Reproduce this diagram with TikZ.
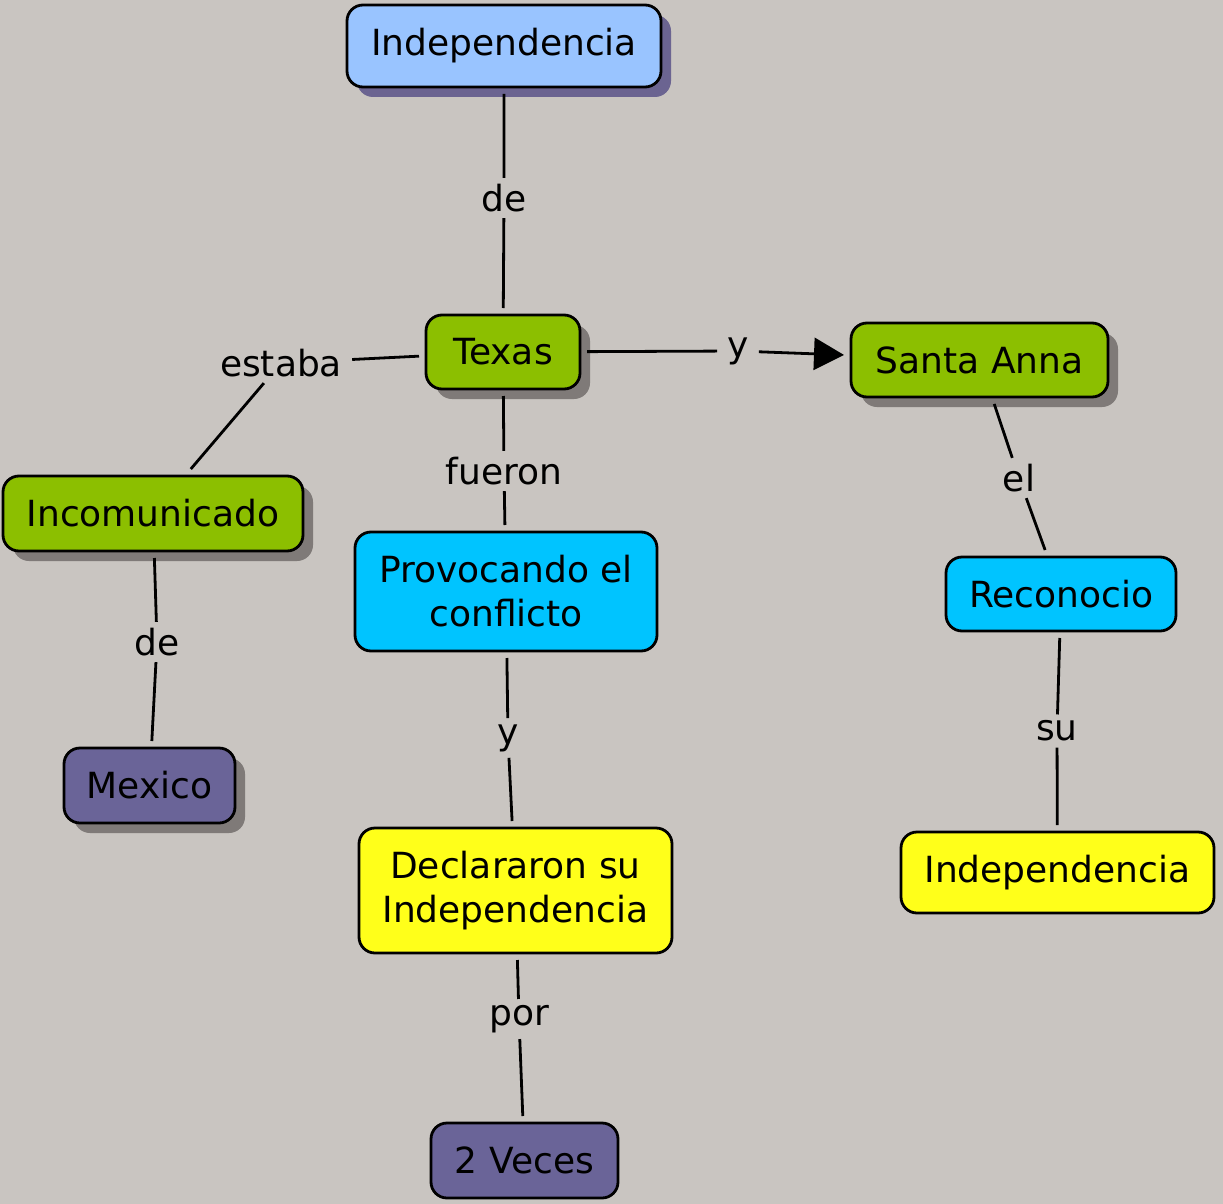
\documentclass[tikz,border=0pt]{standalone}
\usepackage{fontspec}
\setmainfont{DejaVu Sans}
\usetikzlibrary{arrows.meta,shadows}
\definecolor{bgcol}{RGB}{201,197,193}
\definecolor{skyblue}{RGB}{153,196,255}
\definecolor{leafgreen}{RGB}{140,191,0}
\definecolor{brightcyan}{RGB}{0,196,255}
\definecolor{slatepurple}{RGB}{106,100,152}
\definecolor{lemon}{RGB}{255,255,26}
\definecolor{shadowgray}{RGB}{127,122,120}
\definecolor{shadowpurple}{RGB}{107,100,145}
\begin{document}
\begin{tikzpicture}[x=1pt,y=-1pt,
  concept/.style={draw=black,line width=2.8pt,rounded corners=16pt,align=center,
    inner sep=0pt,outer sep=7pt,font=\fontsize{36}{44}\selectfont},
  shade/.style={drop shadow={shadow xshift=10pt,shadow yshift=-10pt,fill=#1,opacity=1}},
  link/.style={font=\fontsize{36}{44}\selectfont,inner xsep=10pt,inner ysep=6pt},
  conn/.style={line width=2.8pt}]
\fill[bgcol] (0,0) rectangle (1223,1204);
\useasboundingbox (0,0) rectangle (1223,1204);
% concepts
\node[concept,fill=skyblue,shade=shadowpurple,minimum width=314pt,minimum height=82pt] (indep) at (504,46) {Independencia};
\node[concept,fill=leafgreen,shade=shadowgray,minimum width=154pt,minimum height=74pt] (texas) at (503,352) {Texas};
\node[concept,fill=leafgreen,shade=shadowgray,minimum width=257pt,minimum height=74pt] (santa) at (979.5,360) {Santa Anna};
\node[concept,fill=leafgreen,shade=shadowgray,minimum width=300pt,minimum height=75pt] (incom) at (153,513.5) {Incomunicado};
\node[concept,fill=brightcyan,minimum width=302pt,minimum height=119pt] (provo) at (506,591.5) {Provocando el\\conflicto};
\node[concept,fill=brightcyan,minimum width=230pt,minimum height=74pt] (recon) at (1061,594) {Reconocio};
\node[concept,fill=slatepurple,shade=shadowgray,minimum width=171pt,minimum height=75pt] (mexico) at (149.5,785.5) {Mexico};
\node[concept,fill=lemon,minimum width=313pt,minimum height=125pt] (decl) at (515.5,890.5) {Declararon su\\Independencia};
\node[concept,fill=lemon,minimum width=313pt,minimum height=81pt] (indepb) at (1057.5,872.5) {Independencia};
\node[concept,fill=slatepurple,minimum width=187pt,minimum height=75pt] (veces) at (524.5,1160.5) {2 Veces};
% linking words
\node[link] (de1) at (504,198) {de};
\node[link] (estaba) at (281,363) {estaba};
\node[link] (y1) at (738,351) {y};
\node[link] (fueron) at (504,471) {fueron};
\node[link] (y2) at (508,738) {y};
\node[link] (por) at (519,1019) {por};
\node[link] (de2) at (157,642) {de};
\node[link] (el) at (1019,478) {el};
\node[link] (su) at (1057,731) {su};
% connectors
\draw[conn] (indep) -- (de1) -- (texas);
\draw[conn] (texas) -- (estaba) -- (incom);
\draw[conn] (texas) -- (y1);
\draw[conn,-{Triangle[length=30pt,width=32pt]}] (y1) -- (santa);
\draw[conn] (texas) -- (fueron) -- (provo);
\draw[conn] (provo) -- (y2) -- (decl);
\draw[conn] (decl) -- (por) -- (veces);
\draw[conn] (incom) -- (de2) -- (mexico);
\draw[conn] (santa) -- (el) -- (recon);
\draw[conn] (recon) -- (su) -- (indepb);
\end{tikzpicture}
\end{document}
